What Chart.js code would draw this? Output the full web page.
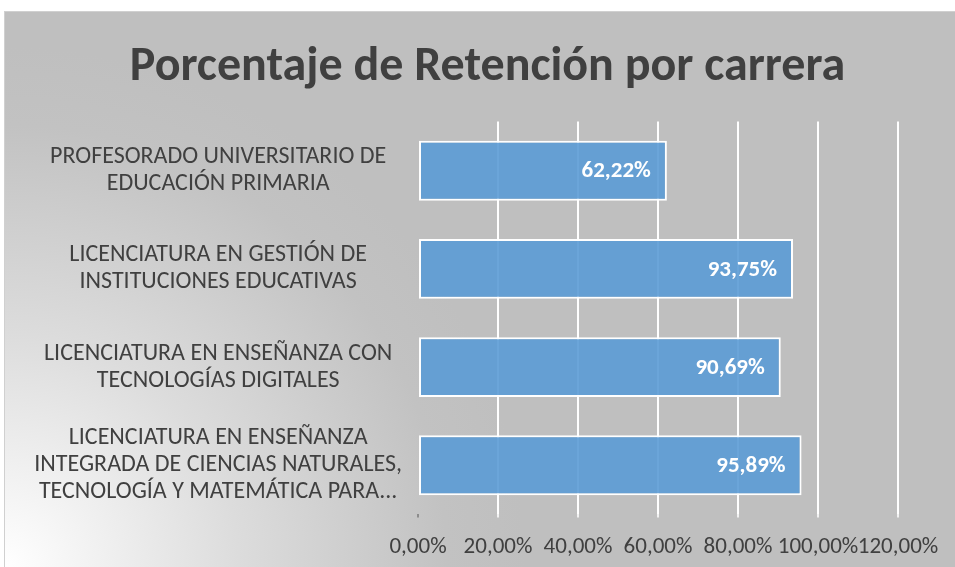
<!DOCTYPE html>
<html>
<head>
<meta charset="utf-8">
<script src="https://cdn.jsdelivr.net/npm/chart.js@4.4.1/dist/chart.umd.min.js"></script>
<style>
  html, body { margin: 0; padding: 0; background: #ffffff; }
  #wrap { width: 955px; height: 567px; position: relative; }
</style>
</head>
<body>
<div id="wrap"><canvas id="chart"></canvas></div>
<script>
'use strict';

// categories, top to bottom
var carreras = [
  ['PROFESORADO UNIVERSITARIO DE', 'EDUCACIÓN PRIMARIA'],
  ['LICENCIATURA EN GESTIÓN DE', 'INSTITUCIONES EDUCATIVAS'],
  ['LICENCIATURA EN ENSEÑANZA CON', 'TECNOLOGÍAS DIGITALES'],
  ['LICENCIATURA EN ENSEÑANZA', 'INTEGRADA DE CIENCIAS NATURALES,', 'TECNOLOGÍA Y MATEMÁTICA PARA...']
];
var retencion = [62.22, 93.75, 90.69, 95.89];
var ejeMin = 0;
var ejeMax = 120;
var ejePaso = 20;

var FONT = 'Carlito, Lato, "Liberation Sans", sans-serif';

function pct(v) {
  return v.toFixed(2).replace('.', ',') + '%';
}

// gray panel with a light glow from the bottom-left corner
var fondo = {
  id: 'fondo',
  beforeDraw: function(chart) {
    var ctx = chart.ctx;
    var w = chart.width, h = chart.height;
    ctx.save();
    ctx.fillStyle = '#ffffff';
    ctx.fillRect(0, 0, w, h);
    var g = ctx.createRadialGradient(5, h, 0, 5, h, 520);
    g.addColorStop(0, '#ffffff');
    g.addColorStop(0.45, '#dcdcdc');
    g.addColorStop(0.85, '#c2c2c2');
    g.addColorStop(1, '#bfbfbf');
    ctx.fillStyle = g;
    ctx.fillRect(5, 11, w - 5, h - 11);
    ctx.strokeStyle = '#d0d0d0';
    ctx.lineWidth = 1;
    ctx.strokeRect(4.5, 11.5, w, h);
    ctx.restore();
  }
};

// value labels inside the end of each bar
var etiquetas = {
  id: 'etiquetas',
  afterDatasetsDraw: function(chart) {
    var ctx = chart.ctx;
    var meta = chart.getDatasetMeta(0);
    ctx.save();
    ctx.fillStyle = '#ffffff';
    ctx.font = 'bold 23px ' + FONT;
    ctx.textAlign = 'right';
    ctx.textBaseline = 'middle';
    meta.data.forEach(function(bar, i) {
      ctx.fillText(pct(retencion[i]), bar.x - 16, bar.y + 1);
    });
    ctx.restore();
  }
};

var chart = new Chart(document.getElementById('chart'), {
  type: 'bar',
  data: {
    labels: carreras,
    datasets: [{
      data: retencion,
      backgroundColor: 'rgba(91,155,213,0.9)',
      borderColor: '#ffffff',
      borderWidth: 2,
      borderSkipped: false,
      categoryPercentage: 1,
      barPercentage: 0.61
    }]
  },
  options: {
    indexAxis: 'y',
    responsive: true,
    maintainAspectRatio: false,
    animation: false,
    layout: {
      padding: { top: 11, right: 0, bottom: 6, left: 20 }
    },
    plugins: {
      legend: { display: false },
      tooltip: { enabled: false },
      title: {
        display: true,
        text: 'Porcentaje de Retención por carrera',
        color: '#404040',
        font: { family: FONT, size: 48, weight: 'bold' },
        padding: { top: 28, bottom: 25 }
      }
    },
    scales: {
      x: {
        min: ejeMin,
        max: ejeMax,
        border: { display: false },
        afterFit: function(scale) {
          scale.paddingRight = 57;
          // the library reserves the tick padding twice; keep it once
          scale.height -= scale.options.ticks.padding;
        },
        grid: {
          color: function(c) { return c.index === 0 ? 'rgba(0,0,0,0)' : '#ffffff'; },
          tickColor: function(c) { return c.index === 0 ? '#8c8c8c' : 'rgba(255,255,255,0.8)'; },
          lineWidth: 2,
          tickLength: 3
        },
        ticks: {
          stepSize: ejePaso,
          autoSkip: false,
          maxRotation: 0,
          padding: 16,
          color: '#404040',
          font: { family: FONT, size: 23 },
          callback: function(v) { return pct(v); }
        }
      },
      y: {
        border: { display: false },
        grid: { display: false },
        afterFit: function(scale) {
          scale.width = 398;
          scale.paddingTop = 0;
          scale.paddingBottom = 0;
        },
        ticks: {
          crossAlign: 'center',
          padding: 8,
          color: '#404040',
          font: { family: FONT, size: 24, lineHeight: 1.12 }
        }
      }
    }
  },
  plugins: [fondo, etiquetas]
});
</script>
</body>
</html>
